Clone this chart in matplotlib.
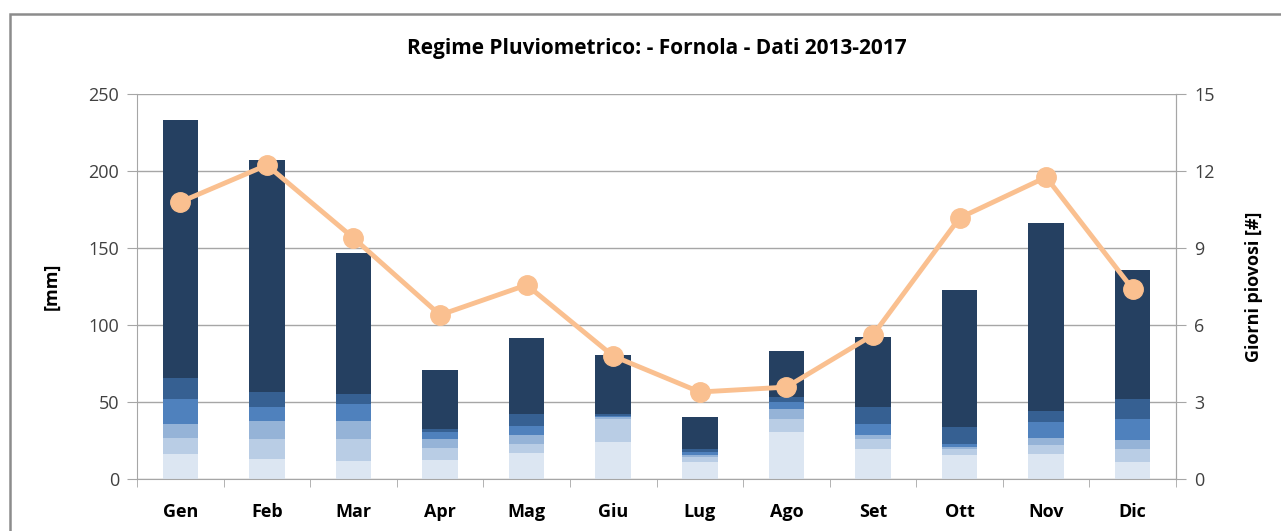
import numpy as np
import matplotlib.pyplot as plt
from matplotlib.patches import Rectangle

mesi = ["Gen", "Feb", "Mar", "Apr", "Mag", "Giu", "Lug", "Ago", "Set", "Ott", "Nov", "Dic"]

# pioggia mensile [mm] per fascia (dal basso verso l'alto)
fascia_1 = [16.2, 13.2, 11.7, 12.5, 17.1, 24.2, 10.8, 30.5, 19.5, 15.6, 16.4, 11.0]
fascia_2 = [10.2, 12.6, 14.1, 7.8, 5.4, 15.0, 3.3, 8.3, 6.3, 3.7, 5.5, 8.5]
fascia_3 = [9.5, 11.7, 11.7, 5.5, 6.3, 0.9, 1.5, 6.5, 2.8, 1.3, 4.7, 5.6]
fascia_4 = [16.0, 9.3, 11.0, 4.9, 5.6, 0.8, 2.1, 4.9, 7.1, 2.1, 10.2, 13.9]
fascia_5 = [13.5, 9.5, 6.9, 1.8, 7.8, 1.1, 1.6, 2.8, 11.1, 10.9, 7.6, 13.1]
fascia_6 = [167.7, 150.8, 91.4, 38.3, 49.4, 38.5, 21.2, 30.1, 45.4, 89.1, 121.8, 83.6]

# giorni piovosi medi
giorni = [10.79, 12.23, 9.39, 6.39, 7.56, 4.79, 3.39, 3.58, 5.61, 10.17, 11.76, 7.40]

fasce = [fascia_1, fascia_2, fascia_3, fascia_4, fascia_5, fascia_6]
colori = ["#dce6f2", "#b9cde5", "#95b3d7", "#4f81bd", "#366092", "#254061"]

plt.rcParams['font.family'] = ['Open Sans', 'DejaVu Sans']

fig = plt.figure(figsize=(12.81, 5.31), dpi=100)
ax = fig.add_axes([137/1281, 1 - 479/531, (1176 - 137)/1281, (479 - 94)/531])

# bordo esterno del grafico
fig.patches.append(Rectangle((10/1281, -0.05), 1.1, 1 - 14/531 + 0.05, transform=fig.transFigure,
                             fill=False, edgecolor="#8c8c8c", linewidth=1.8))

x = np.arange(len(mesi))
base = np.zeros(len(mesi))
for valori, col in zip(fasce, colori):
    ax.bar(x, valori, width=0.41, bottom=base, color=col, zorder=2)
    base += np.array(valori)

ax.set_xlim(-0.5, len(mesi) - 0.5)
ax.set_ylim(0, 250)
ax.set_yticks(range(0, 251, 50))
ax.yaxis.grid(True, color="#a6a6a6", linewidth=1)
ax.set_axisbelow(True)
ax.set_xticks(x)
ax.set_xticklabels(mesi, fontweight="bold", fontsize=13)
ax.set_xticks(np.arange(-0.5, len(mesi)), minor=True)
ax.tick_params(axis="x", which="major", length=0, pad=17)
ax.tick_params(axis="x", which="minor", length=6, color="#a6a6a6")
ax.tick_params(axis="y", length=7, color="#a6a6a6", labelsize=13, labelcolor="#404040", pad=6)
for s in ["top"]:
    ax.spines[s].set_visible(False)
for s in ["left", "right", "bottom"]:
    ax.spines[s].set_color("#a6a6a6")
ax.set_ylabel("[mm]", fontweight="bold", fontsize=13, labelpad=20)

ax2 = ax.twinx()
ax2.plot(x, giorni, color="#fac090", linewidth=3.5, marker="o", markersize=14, zorder=3)
ax2.set_ylim(0, 15)
ax2.set_yticks(range(0, 16, 3))
ax2.tick_params(axis="y", length=7, color="#a6a6a6", labelsize=13, labelcolor="#404040", pad=6)
for s in ["top", "left", "bottom"]:
    ax2.spines[s].set_visible(False)
ax2.spines["right"].set_color("#a6a6a6")
ax2.set_ylabel("Giorni piovosi [#]", fontweight="bold", fontsize=13, labelpad=22)

fig.text(0.5 * (137 + 1176) / 1281, 1 - 48/531, "Regime Pluviometrico: - Fornola - Dati 2013-2017",
         ha="center", va="center", fontweight="bold", fontsize=15)

fig.savefig("out.png", dpi=100)
